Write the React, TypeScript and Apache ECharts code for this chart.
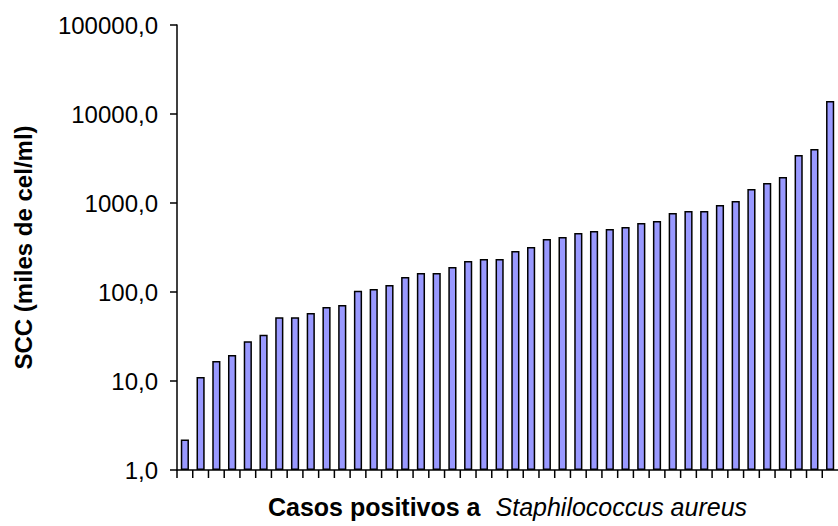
import React, { useEffect, useRef } from "react";
import * as echarts from "echarts";

const cases: string[] = Array.from({ length: 42 }, (_, i) => String(i + 1));
const sccValues: number[] = [
  2.2, 11.1, 16.8, 19.6, 28, 33, 52, 52, 58, 68, 71.5, 103, 108, 120, 147, 163,
  163, 191, 223, 235, 235, 289, 320, 394, 415, 460, 485, 510, 537, 596, 628,
  772, 813, 813, 950, 1053, 1436, 1678, 1960, 3460, 4045, 14000,
];
const yAxisTitle = "SCC (miles de cel/ml)";
const xTitleBold = "Casos positivos a";
const xTitleItalic = "Staphilococcus aureus";

const FONT = "Liberation Sans, Arial, sans-serif";

export default function App() {
  const ref = useRef<HTMLDivElement>(null);
  useEffect(() => {
    if (!ref.current) return;
    const chart = echarts.init(ref.current, undefined, { renderer: "svg" });
    chart.setOption({
      animation: false,
      backgroundColor: "#ffffff",
      textStyle: { fontFamily: FONT },
      grid: { left: 177, right: -6, top: 25, bottom: 56, containLabel: false },
      xAxis: {
        type: "category",
        data: cases,
        boundaryGap: true,
        axisLine: { show: true, lineStyle: { color: "#000", width: 1.5 } },
        axisTick: { show: false },
        axisLabel: { show: false },
        splitLine: { show: false },
        name: `{b|${xTitleBold}}{i|${xTitleItalic}}`,
        nameLocation: "middle",
        nameGap: 24,
        nameTextStyle: {
          rich: {
            b: { fontSize: 25, fontWeight: "bold", color: "#000", fontFamily: FONT },
            i: { fontSize: 25, fontStyle: "italic", color: "#000", fontFamily: FONT, padding: [0, 0, 0, 15] },
          },
        },
      },
      yAxis: {
        type: "log",
        logBase: 10,
        min: 1,
        max: 100000,
        axisLine: { show: true, lineStyle: { color: "#000", width: 1.5 } },
        axisTick: { show: true, length: 7, lineStyle: { color: "#000", width: 1.5 } },
        splitLine: { show: false },
        axisLabel: {
          color: "#000",
          fontSize: 24,
          margin: 19,
          fontFamily: FONT,
          formatter: (v: number) => v.toFixed(1).replace(".", ","),
        },
        name: yAxisTitle,
        nameLocation: "middle",
        nameRotate: 90,
        nameGap: 142,
        nameTextStyle: {
          color: "#000",
          fontSize: 24,
          fontWeight: "bold",
          fontFamily: FONT,
        },
      },
      series: [
        {
          type: "bar",
          data: sccValues,
          barWidth: "52%",
          itemStyle: { color: "#9999ff", borderColor: "#000", borderWidth: 1.5 },
        },
        {
          type: "custom",
          silent: true,
          clip: false,
          z: 5,
          encode: { x: 0, y: 1 },
          data: cases.map((c) => [c, 1]),
          renderItem: (params: any, api: any) => {
            const idx = api.value(0);
            const c = api.coord([idx, 1]);
            const w = api.size([1, 1])[0];
            const x = c[0] - w / 2;
            const y = c[1];
            return {
              type: "line",
              shape: { x1: x, y1: y, x2: x, y2: y + 8 },
              style: { stroke: "#000", lineWidth: 1.5 },
            };
          },
        },
      ],
    });
    return () => chart.dispose();
  }, []);
  return (
    <div
      ref={ref}
      style={{ position: "fixed", left: 0, top: 0, width: 838, height: 526 }}
    />
  );
}
